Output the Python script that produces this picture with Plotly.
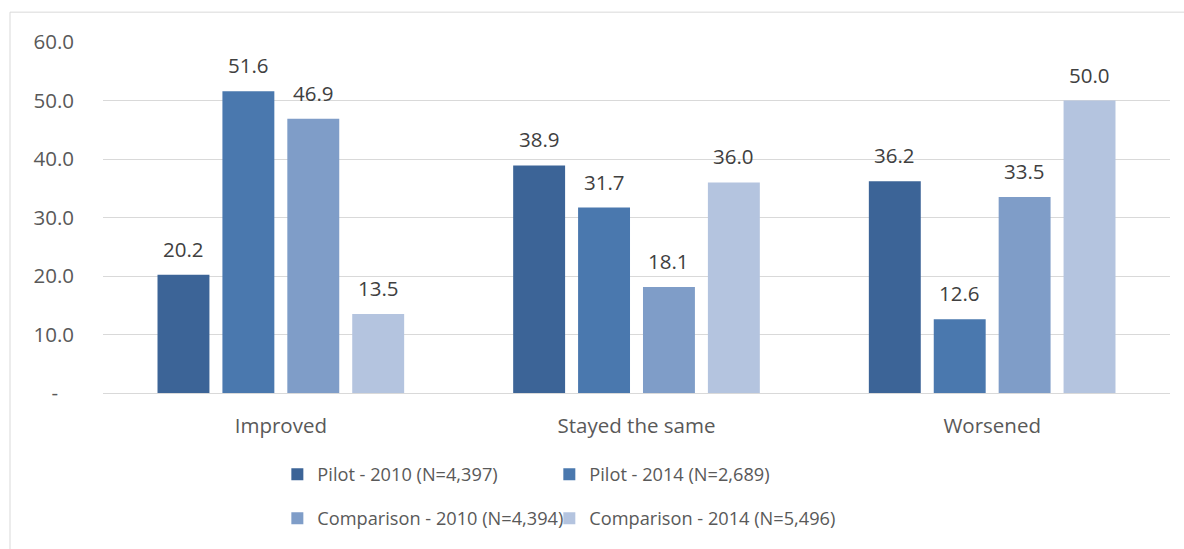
import plotly.graph_objects as go

# Share of respondents by change in status
categories = ["Improved", "Stayed the same", "Worsened"]
series_names = [
    "Pilot - 2010 (N=4,397)",
    "Pilot - 2014 (N=2,689)",
    "Comparison - 2010 (N=4,394)",
    "Comparison - 2014 (N=5,496)",
]
pilot_2010 = [20.2, 38.9, 36.2]
pilot_2014 = [51.6, 31.7, 12.6]
comparison_2010 = [46.9, 18.1, 33.5]
comparison_2014 = [13.5, 36.0, 50.0]
y_tick_values = [0, 10, 20, 30, 40, 50, 60]
y_tick_labels = ["-\u00a0\u00a0\u00a0", "10.0", "20.0", "30.0", "40.0", "50.0", "60.0"]

series_values = [pilot_2010, pilot_2014, comparison_2010, comparison_2014]
colors = ["#3C6497", "#4A78AE", "#7F9DC8", "#B4C4DF"]

FONT = "Open Sans"
LABEL_SIZE = 20.5
LEGEND_SIZE = 18.2
BARGAP = 0.27
BARGROUPGAP = 0.2

# legend entries laid out as a 2 x 2 grid: one single-entry legend per cell
legend_ids = ["legend", "legend2", "legend3", "legend4"]
legend_cells = [(0.1634, -0.232), (0.4183, -0.232), (0.1634, -0.357), (0.4183, -0.357)]

fig = go.Figure()
for name, vals, col, lg in zip(series_names, series_values, colors, legend_ids):
    fig.add_trace(go.Bar(
        x=categories, y=vals, name=name,
        marker=dict(color=col, line=dict(width=0)),
        legend=lg, hoverinfo="skip",
    ))

# value labels above each bar, placed at the bar's centre within its group
n = len(series_values)
slot = (1 - BARGAP) / n
annotations = []
for k, vals in enumerate(series_values):
    for i, v in enumerate(vals):
        annotations.append(dict(
            x=i + (k - (n - 1) / 2) * slot, y=v, xref="x", yref="y",
            text=f"{v:.1f}", showarrow=False, yanchor="bottom", yshift=10,
            font=dict(family=FONT, size=LABEL_SIZE, color="#404040"),
        ))

legend_layouts = {}
for lg, (lx, ly) in zip(legend_ids, legend_cells):
    legend_layouts[lg] = dict(
        orientation="h", x=lx, xanchor="left", y=ly, yanchor="middle",
        font=dict(family=FONT, size=LEGEND_SIZE, color="#595959"),
        bgcolor="rgba(0,0,0,0)", itemclick=False, itemdoubleclick=False,
    )

fig.update_layout(
    width=1184, height=549,
    margin=dict(l=103, r=14, t=42, b=154),
    paper_bgcolor="white", plot_bgcolor="white",
    barmode="group", bargap=BARGAP, bargroupgap=BARGROUPGAP,
    font=dict(family=FONT, size=LABEL_SIZE, color="#595959"),
    annotations=annotations,
    showlegend=True,
    shapes=[dict(
        type="rect", xref="paper", yref="paper",
        x0=(10 - 103) / 1067, x1=1.03, y0=-0.5, y1=(395 - 12) / 353,
        line=dict(color="#D9D9D9", width=1), fillcolor="rgba(0,0,0,0)", layer="below",
    )],
    **legend_layouts,
)

fig.update_xaxes(
    type="category", showgrid=False, showline=False, zeroline=False,
    ticks="", ticklabelstandoff=18,
    tickfont=dict(family=FONT, size=LABEL_SIZE, color="#595959"),
)
fig.update_yaxes(
    range=[0, 60], tickvals=y_tick_values, ticktext=y_tick_labels,
    showgrid=True, gridcolor="#D9D9D9", gridwidth=1,
    zeroline=True, zerolinecolor="#D9D9D9", zerolinewidth=1,
    showline=False, ticks="", ticklabelstandoff=28,
    tickfont=dict(family=FONT, size=LABEL_SIZE, color="#595959"),
)

fig.write_html("out.html")
